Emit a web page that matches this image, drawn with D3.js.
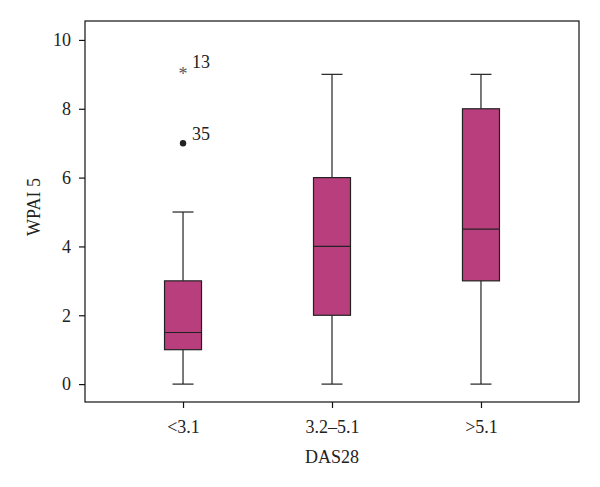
<!DOCTYPE html>
<html>
<head>
<meta charset="utf-8">
<script src="https://cdn.jsdelivr.net/npm/d3@7"></script>
<style>
  body { margin: 0; background: #fff; }
  svg text { font-family: "Liberation Serif", "DejaVu Serif", serif; fill: #222; }
</style>
</head>
<body>
<script>
// data
const categories = ["<3.1", "3.2\u20135.1", ">5.1"];
const whiskerLow = [0, 0, 0];
const q1 = [1, 2, 3];
const medians = [1.5, 4, 4.5];
const q3 = [3, 6, 8];
const whiskerHigh = [5, 9, 9];
const outlierValues = [7, 9.1];
const outlierGroups = ["<3.1", "<3.1"];
const outlierLabels = ["35", "13"];
const outlierKinds = ["dot", "star"];
const yTicks = [0, 2, 4, 6, 8, 10];

const WIDTH = 600, HEIGHT = 487;
const mLeft = 85, mRight = 579, mTop = 21, mBottom = 402;
const fillCol = "#b93e7d";
const FS = 18;

const svg = d3.select("body").append("svg")
  .attr("width", WIDTH).attr("height", HEIGHT);

const x = d3.scalePoint().domain(categories).range([mLeft, mRight]).padding(0.658);
const y = d3.scaleLinear().domain([-0.52, 10.55]).range([mBottom, mTop]);

// frame
svg.append("rect")
  .attr("x", mLeft).attr("y", mTop)
  .attr("width", mRight - mLeft).attr("height", mBottom - mTop)
  .attr("fill", "none").attr("stroke", "#111").attr("stroke-width", 1.2);

// axes
const yAxis = svg.append("g")
  .attr("transform", `translate(${mLeft},0)`)
  .call(d3.axisLeft(y).tickValues(yTicks).tickSize(6).tickPadding(8));
const xAxis = svg.append("g")
  .attr("transform", `translate(0,${mBottom})`)
  .call(d3.axisBottom(x).tickSize(6).tickPadding(12));
[yAxis, xAxis].forEach(g => {
  g.select(".domain").remove();
  g.selectAll("line").attr("stroke", "#111").attr("stroke-width", 1.2);
  g.selectAll("text").attr("font-size", FS).attr("fill", "#222")
    .style("font-family", "'Liberation Serif', serif");
});

// axis titles
svg.append("text")
  .attr("transform", "translate(40,207) rotate(-90)")
  .attr("text-anchor", "middle").attr("font-size", FS).text("WPAI 5");
svg.append("text")
  .attr("x", (mLeft + mRight) / 2).attr("y", 463)
  .attr("text-anchor", "middle").attr("font-size", FS).text("DAS28");

// boxes
const boxW = 37, capW = 21;
const rows = categories.map((c, i) => ({
  c, lo: whiskerLow[i], q1: q1[i], med: medians[i], q3: q3[i], hi: whiskerHigh[i]
}));

const g = svg.append("g").attr("stroke", "#222").attr("stroke-width", 1.2);
rows.forEach(d => {
  const cx = x(d.c);
  g.append("line").attr("x1", cx).attr("x2", cx).attr("y1", y(d.lo)).attr("y2", y(d.q1));
  g.append("line").attr("x1", cx).attr("x2", cx).attr("y1", y(d.q3)).attr("y2", y(d.hi));
  g.append("line").attr("x1", cx - capW / 2).attr("x2", cx + capW / 2).attr("y1", y(d.lo)).attr("y2", y(d.lo));
  g.append("line").attr("x1", cx - capW / 2).attr("x2", cx + capW / 2).attr("y1", y(d.hi)).attr("y2", y(d.hi));
  g.append("rect").attr("x", cx - boxW / 2).attr("y", y(d.q3))
    .attr("width", boxW).attr("height", y(d.q1) - y(d.q3)).attr("fill", fillCol);
  g.append("line").attr("x1", cx - boxW / 2).attr("x2", cx + boxW / 2).attr("y1", y(d.med)).attr("y2", y(d.med));
});

// outliers
outlierValues.forEach((v, i) => {
  const cx = x(outlierGroups[i]), cy = y(v);
  if (outlierKinds[i] === "dot") {
    svg.append("circle").attr("cx", cx).attr("cy", cy).attr("r", 3.2).attr("fill", "#222");
  } else {
    svg.append("text").attr("x", cx).attr("y", cy + 9).attr("text-anchor", "middle")
      .attr("font-size", 18).style("fill", "#555").text("*");
  }
  svg.append("text").attr("x", cx + 9).attr("y", cy - 3)
    .attr("font-size", FS).text(outlierLabels[i]);
});
</script>
</body>
</html>
